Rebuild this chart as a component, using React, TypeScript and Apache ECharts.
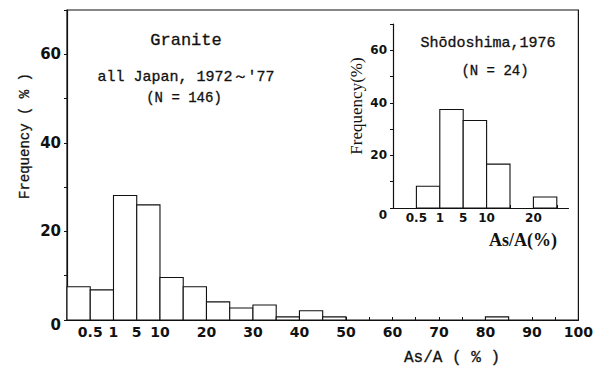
import React, { useEffect, useRef } from "react";
import * as echarts from "echarts";

// Bin edges (As/A %): 0,0.5,1,5,10,15,20,...,100 -> each bin drawn with equal width
const binEdgeLabels = ["", "0.5", "1", "5", "10", "", "20", "", "30", "", "40", "", "50", "", "60", "", "70", "", "80", "", "90", "", "100"];
// Frequency (%) per bin, all Japan 1972-'77 (N = 146)
const mainFreq = [7.5, 6.8, 28.1, 26.0, 9.6, 7.5, 4.1, 2.7, 3.4, 0.7, 2.1, 0.7, 0, 0, 0, 0, 0, 0, 0.7, 0, 0, 0];
// Shodoshima 1976 (N = 24)
const insetEdgeLabels = ["", "0.5", "1", "5", "10", "", "20", ""];
const insetFreq = [0, 8.3, 37.5, 33.3, 16.7, 0, 4.2];
const yTickLabels = [0, 20, 40, 60];

const MONO = "'Liberation Mono', 'DejaVu Sans Mono', monospace";
const SANS = "'DejaVu Sans', sans-serif";
const SERIF = "'Liberation Serif', 'DejaVu Serif', serif";
const INK = "#111";

function barItem(params: any, api: any) {
  const i = api.value(0);
  const v = api.value(1);
  const p0 = api.coord([i, v]);
  const p1 = api.coord([i + 1, 0]);
  return {
    type: "rect",
    shape: { x: p0[0], y: p0[1], width: p1[0] - p0[0], height: p1[1] - p0[1] },
    style: { fill: "#fff", stroke: INK, lineWidth: 1.1 },
  };
}

export default function App() {
  const ref = useRef<HTMLDivElement>(null);
  useEffect(() => {
    document.body.style.margin = "0";
    const chart = echarts.init(ref.current!, null, { renderer: "svg" });
    const yLabel = (size: number, pad: number) => ({
      show: true,
      color: INK,
      fontFamily: SANS,
      fontWeight: "bold" as const,
      fontSize: size,
      margin: 6,
      formatter: (v: number) =>
        v === 0 ? "{z|0}" : yTickLabels.indexOf(v) >= 0 ? String(v) : "",
      rich: {
        z: { fontFamily: SANS, fontWeight: "bold", fontSize: size, color: INK, padding: [pad, 0, 0, 0] },
      },
    });
    chart.setOption({
      animation: false,
      backgroundColor: "#fff",
      grid: [
        { left: 67, top: 10, right: 13, bottom: 47, show: true, borderColor: INK, borderWidth: 1.2, backgroundColor: "transparent" },
        { left: 393, top: 24, right: 27.5, bottom: 159 },
      ],
      xAxis: [
        {
          type: "value", gridIndex: 0, min: 0, max: 22, interval: 1,
          axisLine: { show: true, lineStyle: { color: INK, width: 1.2 } },
          axisTick: { show: true, inside: true, length: 3, lineStyle: { color: INK } },
          splitLine: { show: false },
          axisLabel: {
            color: INK, fontFamily: SANS, fontWeight: "bold", fontSize: 14, margin: 5,
            showMinLabel: true, showMaxLabel: true, hideOverlap: false,
            formatter: (v: number) => binEdgeLabels[Math.round(v)] || "",
          },
        },
        {
          type: "value", gridIndex: 1, min: 0, max: 7.5, interval: 1,
          axisLine: { show: true, lineStyle: { color: INK, width: 1.2 } },
          axisTick: { show: true, inside: true, length: 3, lineStyle: { color: INK } },
          splitLine: { show: false },
          axisLabel: {
            color: INK, fontFamily: SANS, fontWeight: "bold", fontSize: 12, margin: 4,
            showMinLabel: true, showMaxLabel: false, hideOverlap: false,
            formatter: (v: number) => insetEdgeLabels[Math.round(v)] || "",
          },
        },
      ],
      yAxis: [
        {
          type: "value", gridIndex: 0, min: 0, max: 70, interval: 10,
          axisLine: { show: true, lineStyle: { color: INK, width: 1.2 } },
          axisTick: { show: true, length: 3, lineStyle: { color: INK } },
          splitLine: { show: false },
          axisLabel: yLabel(15, 10),
        },
        {
          type: "value", gridIndex: 1, min: 0, max: 70, interval: 10,
          axisLine: { show: true, lineStyle: { color: INK, width: 1.2 } },
          axisTick: { show: true, length: 3, lineStyle: { color: INK } },
          splitLine: { show: false },
          axisLabel: yLabel(12, 14),
        },
      ],
      series: [
        {
          type: "custom", xAxisIndex: 0, yAxisIndex: 0,
          renderItem: barItem,
          encode: { x: 0, y: 1 },
          data: mainFreq.map((v, i) => [i, v]).filter((d) => d[1] > 0),
        },
        {
          type: "custom", xAxisIndex: 1, yAxisIndex: 1,
          renderItem: barItem,
          encode: { x: 0, y: 1 },
          data: insetFreq.map((v, i) => [i, v]).filter((d) => d[1] > 0),
        },
      ],
      graphic: [
        { type: "text", x: 186, y: 40, style: { text: "Granite", font: `17px ${MONO}`, fill: INK, align: "center", verticalAlign: "middle", stroke: INK, lineWidth: 0.3 } },
        { type: "text", x: 186, y: 77, style: { text: "all Japan, 1972～'77", font: `15px ${MONO}`, fill: INK, align: "center", verticalAlign: "middle", stroke: INK, lineWidth: 0.3 } },
        { type: "text", x: 184, y: 98, style: { text: "(N = 146)", font: `14px ${MONO}`, fill: INK, align: "center", verticalAlign: "middle", stroke: INK, lineWidth: 0.3 } },
        { type: "text", x: 488, y: 43, style: { text: "Shōdoshima,1976", font: `15px ${MONO}`, fill: INK, align: "center", verticalAlign: "middle", stroke: INK, lineWidth: 0.3 } },
        { type: "text", x: 495, y: 71, style: { text: "(N = 24)", font: `14px ${MONO}`, fill: INK, align: "center", verticalAlign: "middle", stroke: INK, lineWidth: 0.3 } },
        { type: "text", x: 25, y: 136, rotation: Math.PI / 2, style: { text: "Frequency ( % )", font: `14px ${MONO}`, fill: INK, align: "center", verticalAlign: "middle", stroke: INK, lineWidth: 0.3 } },
        { type: "text", x: 356, y: 106, rotation: Math.PI / 2, style: { text: "Frequency(%)", font: `17px ${SERIF}`, fill: INK, align: "center", verticalAlign: "middle" } },
        { type: "text", x: 452, y: 358, style: { text: "As/A ( % )", font: `16px ${MONO}`, fill: INK, align: "center", verticalAlign: "middle", stroke: INK, lineWidth: 0.3 } },
        { type: "text", x: 523, y: 240, style: { text: "As/A(%)", font: `bold 18px ${SERIF}`, fill: INK, align: "center", verticalAlign: "middle" } },
      ],
    });
    return () => chart.dispose();
  }, []);
  return <div ref={ref} style={{ width: 596, height: 367 }} />;
}
